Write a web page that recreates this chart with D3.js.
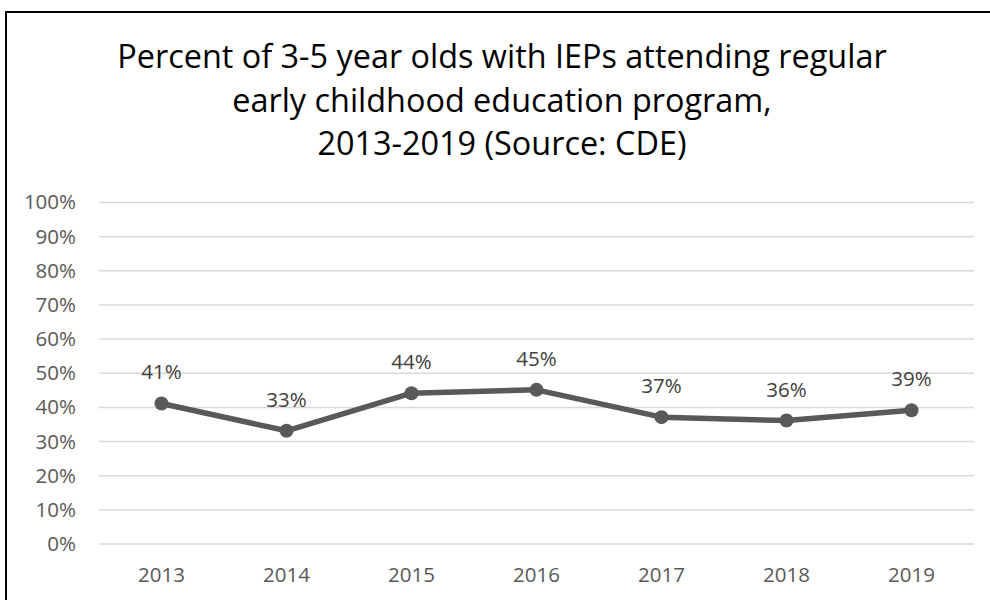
<!DOCTYPE html>
<html>
<head>
<meta charset="utf-8">
<script src="https://cdn.jsdelivr.net/npm/d3@7"></script>
<style>
  html, body { margin: 0; padding: 0; background: #fff; }
  svg { display: block; font-family: "Open Sans", "Noto Sans", sans-serif; }
</style>
</head>
<body>
<svg id="chart" width="990" height="600"></svg>
<script>
// Share of 3-5 year olds with IEPs in regular early childhood programs
const years = ["2013", "2014", "2015", "2016", "2017", "2018", "2019"];
const percentValues = [41, 33, 44, 45, 37, 36, 39];
const yTickValues = [0, 10, 20, 30, 40, 50, 60, 70, 80, 90, 100];
const titleLines = [
  "Percent of 3-5 year olds with IEPs attending regular",
  "early childhood education program,",
  "2013-2019 (Source: CDE)"
];

const svg = d3.select("#chart");
const margin = { left: 99, right: 16, top: 202, bottom: 57 };
const width = 990, height = 600;
const labelSize = 20.5;

// Outer chart frame
svg.append("rect")
  .attr("x", 6).attr("y", 12)
  .attr("width", 1000).attr("height", 600)
  .attr("fill", "#fff")
  .attr("stroke", "#000").attr("stroke-width", 2);

// Title
const titleSize = 32.4;
svg.append("g").selectAll("text")
  .data(titleLines)
  .join("text")
  .attr("x", 502)
  .attr("y", (d, i) => 68 + i * 43.5)
  .attr("text-anchor", "middle")
  .attr("font-size", titleSize)
  .attr("fill", "#000")
  .text(d => d);

const x = d3.scaleBand()
  .domain(years)
  .range([margin.left, width - margin.right]);

const y = d3.scaleLinear()
  .domain([0, 100])
  .range([543.5, margin.top]);

// Horizontal gridlines + y labels
const yAxis = d3.axisLeft(y)
  .tickValues(yTickValues)
  .tickSize(-(width - margin.right - margin.left))
  .tickPadding(23)
  .tickFormat(d => d + "%");

const yG = svg.append("g")
  .attr("transform", `translate(${margin.left},0)`)
  .call(yAxis);
yG.select(".domain").remove();
yG.selectAll(".tick line").attr("stroke", "#d9d9d9").attr("stroke-width", 1.5);
yG.selectAll(".tick text")
  .attr("fill", "#595959")
  .attr("font-size", labelSize)
  .attr("font-family", "Open Sans, sans-serif")
  .attr("dy", "0.34em");

// Category labels along the bottom
const xAxis = d3.axisBottom(x).tickSize(0).tickPadding(0);
const xG = svg.append("g")
  .attr("transform", `translate(0,${y(0)})`)
  .call(xAxis);
xG.select(".domain").remove();
xG.selectAll(".tick text")
  .attr("fill", "#595959")
  .attr("font-size", labelSize)
  .attr("font-family", "Open Sans, sans-serif")
  .attr("dy", 0)
  .attr("y", 38.5);

const cx = d => x(d) + x.bandwidth() / 2;

// Series line
const line = d3.line()
  .x((d, i) => cx(years[i]))
  .y(d => y(d));

svg.append("path")
  .datum(percentValues)
  .attr("d", line)
  .attr("fill", "none")
  .attr("stroke", "#595959")
  .attr("stroke-width", 5.5)
  .attr("stroke-linejoin", "round");

svg.append("g").selectAll("circle")
  .data(percentValues)
  .join("circle")
  .attr("cx", (d, i) => cx(years[i]))
  .attr("cy", d => y(d))
  .attr("r", 7)
  .attr("fill", "#595959");

// Value labels above each point
svg.append("g").selectAll("text")
  .data(percentValues)
  .join("text")
  .attr("x", (d, i) => cx(years[i]))
  .attr("y", d => y(d) - 24)
  .attr("text-anchor", "middle")
  .attr("font-size", labelSize)
  .attr("fill", "#404040")
  .text(d => d + "%");
</script>
</body>
</html>
